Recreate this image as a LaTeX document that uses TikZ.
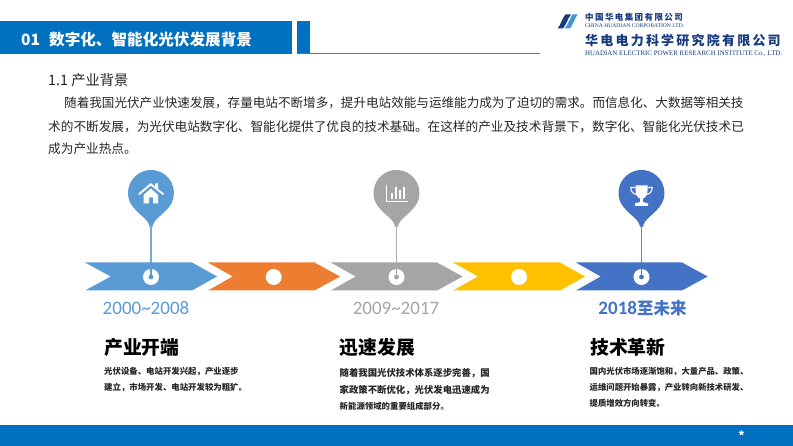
\documentclass[tikz,border=0pt]{standalone}
\usepackage{fontspec}
\usepackage{graphicx}
\setmainfont{Noto Sans CJK SC}
\newfontfamily\latinfont{Carlito}
\newfontfamily\serifl{Liberation Serif}
\definecolor{hdr}{RGB}{0,112,192}
\definecolor{cblue}{RGB}{91,155,213}
\definecolor{corange}{RGB}{237,125,49}
\definecolor{cgray}{RGB}{165,165,165}
\definecolor{cyellow}{RGB}{255,192,0}
\definecolor{cdark}{RGB}{68,114,196}
\definecolor{navy}{RGB}{22,60,125}
\definecolor{txt}{RGB}{38,38,38}
\newcommand{\fsz}[1]{\fontsize{#1}{#1}\selectfont}
\newcommand{\chev}[5]{% colour, left, notch, topright, tip
  \path[fill=#1] (#2,262.5) -- (#4,262.5) -- (#5,276.5) -- (#4,290.5) -- (#2,290.5) -- (#3,276.5) -- cycle;
}
\newcommand{\pin}[2]{% x, colour
  \fill[#2] (#1-20.5,203.4) arc[start angle=153,end angle=387,radius=23] .. controls (#1+14,214) and (#1+4,218) .. (#1+2.2,224.5) -- (#1-2.2,224.5) .. controls (#1-4,218) and (#1-14,214) .. cycle;
  \fill[#2] (#1,225) circle[radius=2.2];
  \draw[#2!85!white,line width=1.2pt] (#1,225) -- (#1,277);
  \fill[white] (#1,277) circle[radius=8];
  \fill[#2] (#1,277) circle[radius=2.4];
  \draw[#2,line width=1.2pt] (#1,262.5) -- (#1,277);
}
\begin{document}
\begin{tikzpicture}[x=1pt,y=-1pt,
  head/.style={fill=hdr,draw=none},
  yearlabel/.style={font=\latinfont\fsz{19},anchor=center,inner sep=0pt},
  cardtitle/.style={font=\bfseries\fsz{18.8},anchor=west,inner sep=0pt,text=black},
  carddesc/.style={font=\bfseries\fontsize{8.4}{16}\selectfont,anchor=north west,inner sep=0pt,align=left,text=txt},
  whiteicon/.style={fill=white,draw=none}]
\useasboundingbox (0,0) rectangle (793,446);
\fill[white] (0,0) rectangle (793,446);
% header
\fill[head] (0,21) rectangle (292,54.5);
\fill[head] (297,21) rectangle (310,53.5);
\fill[hdr!85!white] (297,53) rectangle (540,54);
\node[anchor=west,inner sep=0pt,text=white,font=\bfseries\fsz{15.6}] (title) at (21,39.5) {01\hspace{9pt}数字化、智能化光伏发展背景};
% logo
\fill[navy] (565.5,14.5) -- (571,14.5) .. controls (568,18) and (566,25) .. (563,28.5) -- (557.5,28.5) .. controls (561,25) and (562,18) .. cycle;
\fill[cblue!80!hdr] (572.5,14.5) -- (577.5,14.5) .. controls (575,18) and (573,25) .. (570,28.5) -- (564.5,28.5) .. controls (568,25) and (570,18) .. cycle;
\node[anchor=west,inner sep=0pt,text=navy,font=\bfseries\fsz{8.5}] (lg1) at (585,17.7) {\addfontfeatures{LetterSpace=16.5}中国华电集团有限公司};
\node[anchor=west,inner sep=0pt,text=navy,font=\serifl] (lg2) at (585,25.7) {\resizebox{99pt}{!}{CHINA HUADIAN CORPORATION LTD.}};
\node[anchor=west,inner sep=0pt,text=navy,font=\bfseries\fsz{13}] (lg3) at (585,41) {\addfontfeatures{LetterSpace=17}华电电力科学研究院有限公司};
\node[anchor=west,inner sep=0pt,text=navy,font=\serifl] (lg4) at (585,53.5) {\resizebox{197pt}{!}{HUADIAN ELECTRIC POWER RESEARCH INSTITUTE Co., LTD.}};
% intro
\node[anchor=west,inner sep=0pt,text=txt,font=\fsz{14.3}] (sec) at (48,80.5) {1.1 产业背景};
\node[anchor=north west,inner sep=0pt,text=txt,align=left,font=\fontsize{12.65}{21.5}\selectfont] (body) at (48,97)
 {\hspace{16pt}{\fontsize{12.58}{21.5}\selectfont 随着我国光伏产业快速发展，存量电站不断增多，提升电站效能与运维能力成为了迫切的需求。而信息化、大数据等相关技}\\[2.5pt]
 术的不断发展，为光伏电站数字化、智能化提供了优良的技术基础。在这样的产业及技术背景下，数字化、智能化光伏技术已\\
 成为产业热点。};
% chevrons
\chev{cblue}{85}{110.7}{192}{217}
\chev{corange}{208}{232.7}{314.5}{340}
\chev{cgray}{330.7}{355.7}{437}{462.7}
\chev{cyellow}{453}{478}{560}{585}
\chev{cdark}{576}{600.7}{682}{707.7}
\fill[white] (273.7,277) circle[radius=8];
\fill[white] (519,277) circle[radius=8];
% pins
\pin{151}{cblue}
\pin{396.5}{cgray}
\pin{641.5}{cdark}
% home icon
\fill[whiteicon] (138.3,193.6) -- (150.8,183) -- (155,186.5) -- (155,183.5) -- (158,183.5) -- (158,189) -- (164,193.6) -- (163,195) -- (150.8,185.5) -- (139.5,195) -- cycle;
\fill[whiteicon,even odd rule] (143.5,195) -- (150.8,188.5) -- (158,195) -- (158,203.5) -- (153.2,203.5) -- (153.2,197.5) -- (149,197.5) -- (149,203.5) -- (143.5,203.5) -- cycle;
% chart icon
\draw[white,line width=0.8pt] (386.8,185) -- (386.8,201) -- (408,201);
\fill[whiteicon] (390.7,193) rectangle (392.9,199);
\fill[whiteicon] (394.8,187.5) rectangle (397,199);
\fill[whiteicon] (398.9,190.5) rectangle (401.1,199);
\fill[whiteicon] (403,187) rectangle (405.2,199);
% trophy icon
\fill[whiteicon] (635.5,185.5) -- (647.5,185.5) -- (647.5,191) .. controls (647.5,195) and (645,198) .. (642.8,198.5) -- (642.8,202) -- (648,203.5) -- (648,205.8) -- (635,205.8) -- (635,203.5) -- (640.2,202) -- (640.2,198.5) .. controls (638,198) and (635.5,195) .. (635.5,191) -- cycle;
\draw[white,line width=1.1pt] (635.5,187.5) -- (630.8,187.5) .. controls (630.8,191.5) and (633,194) .. (636.5,194.5);
\draw[white,line width=1.1pt] (647.5,187.5) -- (652.2,187.5) .. controls (652.2,191.5) and (650,194) .. (646.5,194.5);
% year labels
\node[yearlabel,text=cblue] (y1) at (146,308) {2000\textasciitilde 2008};
\node[yearlabel,text=cgray] (y2) at (396,308) {2009\textasciitilde 2017};
\node[yearlabel,text=cdark,font=\bfseries\fsz{16.5}] (y3) at (642.5,308) {{\latinfont\fsz{19}2018}至未来};
% cards
\node[cardtitle] (t1) at (104,347.5) {产业开端};
\node[cardtitle] (t2) at (339.5,347.5) {迅速发展};
\node[cardtitle] (t3) at (590,347.5) {技术革新};
\node[carddesc] (d1) at (104,367) {光伏设备、电站开发兴起，产业逐步\\建立，市场开发、电站开发较为粗犷。};
\node[carddesc,font=\bfseries\fontsize{8.4}{16.7}\selectfont] (d2) at (339.5,368) {\resizebox{150pt}{!}{随着我国光伏技术体系逐步完善，国}\\\resizebox{150pt}{!}{家政策不断优化，光伏发电迅速成为}\\新能源领域的重要组成部分。};
\node[carddesc,font=\bfseries\fontsize{8.35}{15.8}\selectfont] (d3) at (589.5,367) {国内光伏市场逐渐饱和，大量产品、政策、\\运维问题开始暴露，产业转向新技术研发、\\提质增效方向转变。};
% footer
\fill[head] (0,425) rectangle (793,446);
\node[text=white,inner sep=0pt,font=\bfseries\fsz{12}] (star) at (741.5,436) {*};
\end{tikzpicture}
\end{document}
